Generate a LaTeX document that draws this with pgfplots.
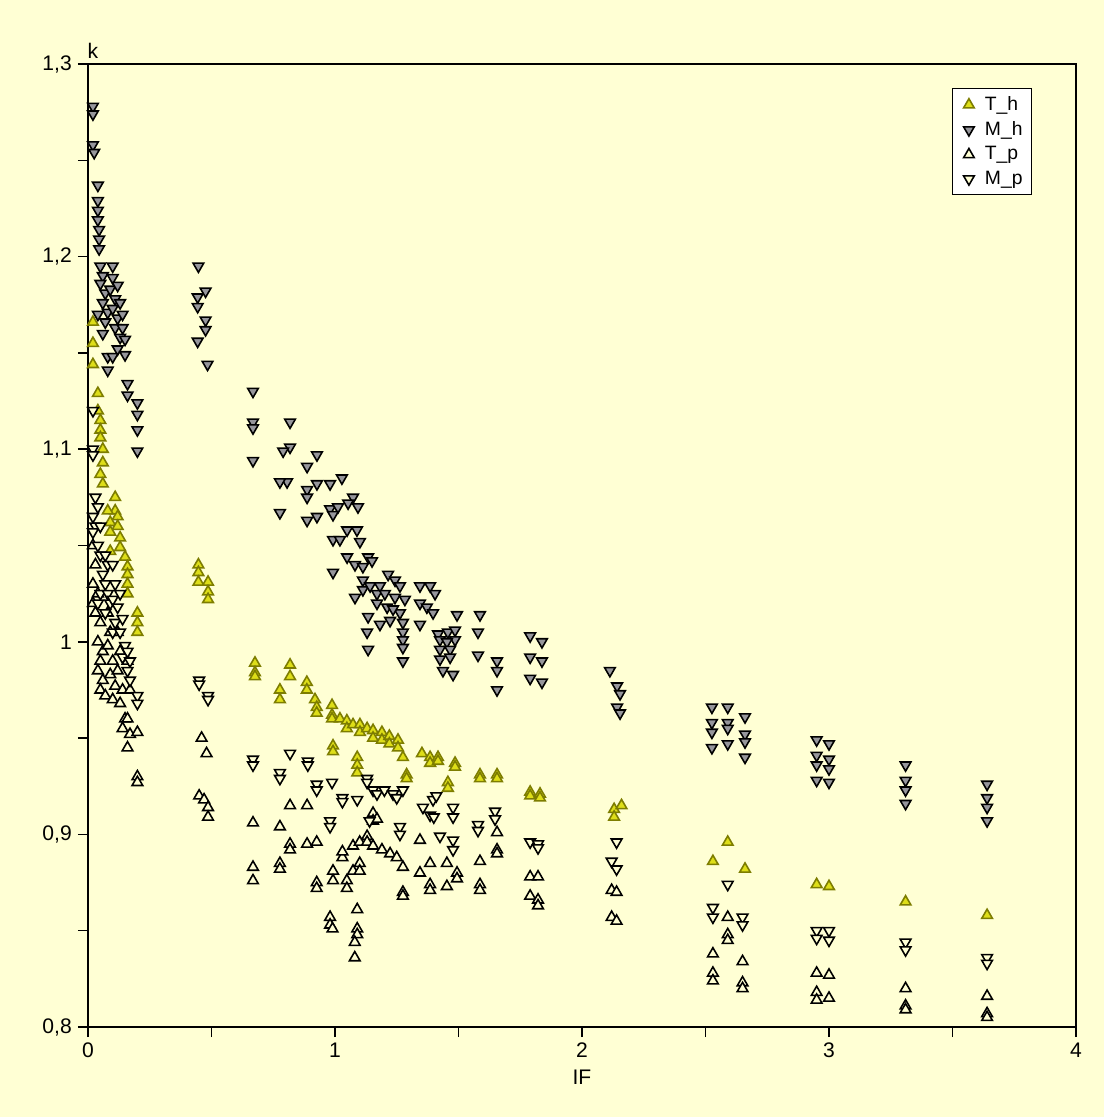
\documentclass[border=0pt]{standalone}
\usepackage{pgfplots}
\pgfplotsset{compat=1.18}
\usepackage{fontspec}
\setmainfont{Liberation Sans}
\definecolor{bg}{RGB}{255,255,212}
\definecolor{tfill}{RGB}{222,222,24}
\definecolor{tdraw}{RGB}{125,125,0}
\definecolor{mfill}{RGB}{150,150,155}
\pgfplotsset{myleg/.style={legend image code/.code={\path (-0.24cm,0cm) (0.20cm,0cm); \draw[mark repeat=2,mark phase=2,##1] plot coordinates {(-0.01cm,0cm) (0cm,0cm) (0.01cm,0cm)};}}}
\begin{document}
\begin{tikzpicture}
\fill[bg] (-1.76,-1.80) rectangle (20.32,20.54);
\begin{axis}[
  scale only axis, width=19.76cm, height=19.26cm,
  xmin=0, xmax=4, ymin=0.8, ymax=1.3,
  axis background/.style={fill=bg},
  clip=false,
  xtick={0,1,2,3,4}, xticklabels={0,1,2,3,4},
  minor xtick={0.5,1.5,2.5,3.5},
  ytick={0.8,0.9,1,1.1,1.2,1.3},
  yticklabels={{0,8},{0,9},1,{1,1},{1,2},{1,3}},
  minor ytick={0.85,0.95,1.05,1.15,1.25},
  tick align=outside, xtick pos=left, ytick pos=left,
  major tick length=0.2cm, minor tick length=0.2cm,
  tick style={black, line width=0.9pt},
  axis line style={black, line width=1.1pt},
  ticklabel style={font=\fontsize{12}{14}\selectfont},
  legend style={at={(rel axis cs:0.8745,0.975)}, anchor=north west,
    draw=black, fill=white, line width=0.8pt,
    font=\fontsize{11}{13}\selectfont, row sep=0pt,
    inner xsep=2pt, inner ysep=2pt,
    nodes={inner xsep=3pt, inner ysep=2.4pt}},
  legend cell align=left,
]
\addplot[only marks, myleg, mark=triangle*, mark size=3.5pt, mark options={fill=tfill, draw=tdraw, line width=0.9pt}] table {
0.02 1.166
0.02 1.155
0.02 1.144
0.04 1.129
0.04 1.12
0.05 1.115
0.05 1.11
0.05 1.106
0.06 1.1
0.06 1.093
0.05 1.087
0.06 1.082
0.11 1.075
0.11 1.068
0.08 1.068
0.12 1.065
0.09 1.062
0.12 1.06
0.09 1.057
0.13 1.054
0.13 1.049
0.09 1.047
0.15 1.044
0.16 1.039
0.16 1.035
0.16 1.03
0.16 1.025
0.20 1.015
0.20 1.01
0.20 1.005
0.447 1.040
0.447 1.036
0.447 1.031
0.486 1.031
0.486 1.026
0.486 1.022
0.676 0.989
0.676 0.984
0.676 0.982
0.818 0.988
0.818 0.982
0.777 0.975
0.777 0.970
0.886 0.979
0.886 0.975
0.919 0.970
0.926 0.966
0.926 0.963
0.988 0.967
0.988 0.962
0.988 0.960
1.02 0.96
1.048 0.959
1.048 0.955
1.073 0.957
1.101 0.957
1.101 0.953
1.13 0.955
1.154 0.954
1.154 0.95
1.19 0.953
1.19 0.949
1.22 0.951
1.22 0.947
1.255 0.949
1.255 0.945
1.275 0.94
0.992 0.946
0.992 0.943
1.09 0.94
1.09 0.936
1.09 0.932
1.29 0.931
1.29 0.929
1.352 0.942
1.385 0.94
1.385 0.937
1.417 0.94
1.417 0.938
1.486 0.937
1.486 0.935
1.457 0.927
1.457 0.924
1.587 0.931
1.587 0.929
1.656 0.931
1.656 0.929
1.79 0.922
1.79 0.92
1.83 0.921
1.83 0.919
2.13 0.913
2.13 0.909
2.16 0.915
2.53 0.886
2.59 0.896
2.66 0.882
2.95 0.874
3.0 0.873
3.31 0.865
3.64 0.858
};
\addlegendentry{T\_h}
\addplot[only marks, myleg, mark=triangle*, mark size=3.5pt, mark options={rotate=180, fill=mfill, draw=black, line width=0.9pt}] table {
0.02 1.278
0.02 1.274
0.02 1.258
0.025 1.254
0.04 1.237
0.04 1.229
0.04 1.224
0.04 1.219
0.045 1.214
0.045 1.209
0.045 1.204
0.05 1.195
0.06 1.19
0.05 1.186
0.07 1.181
0.06 1.176
0.08 1.171
0.07 1.166
0.1 1.195
0.1 1.189
0.09 1.183
0.11 1.178
0.1 1.173
0.12 1.168
0.11 1.163
0.13 1.158
0.12 1.185
0.13 1.176
0.14 1.17
0.12 1.152
0.08 1.148
0.08 1.141
0.14 1.163
0.15 1.157
0.15 1.149
0.16 1.134
0.16 1.128
0.2 1.124
0.2 1.118
0.2 1.11
0.2 1.099
0.06 1.16
0.1 1.148
0.04 1.17
0.447 1.195
0.444 1.179
0.444 1.174
0.476 1.182
0.476 1.167
0.476 1.162
0.444 1.156
0.484 1.144
0.668 1.130
0.668 1.114
0.668 1.111
0.668 1.094
0.818 1.114
0.818 1.101
0.79 1.099
0.927 1.097
0.927 1.082
0.927 1.065
0.887 1.091
0.887 1.079
0.887 1.075
0.887 1.063
0.806 1.083
0.777 1.083
0.777 1.067
0.98 1.082
0.98 1.069
1.028 1.085
1.012 1.07
0.992 1.066
0.992 1.053
0.992 1.036
1.073 1.075
1.093 1.07
1.053 1.072
1.049 1.058
1.049 1.044
1.089 1.058
1.02 1.053
1.101 1.052
1.081 1.04
1.081 1.023
1.134 1.044
1.134 1.013
1.134 0.996
1.15 1.042
1.113 1.039
1.113 1.032
1.113 1.027
1.142 1.029
1.182 1.029
1.182 1.009
1.215 1.035
1.243 1.032
1.243 1.023
1.263 1.029
1.263 1.015
1.17 1.025
1.17 1.02
1.202 1.025
1.283 1.022
1.211 1.018
1.235 1.017
1.223 1.011
1.275 1.01
1.275 1.005
1.275 1.001
1.275 0.997
1.275 0.99
1.13 1.005
1.344 1.029
1.344 1.02
1.344 1.009
1.385 1.029
1.405 1.025
1.372 1.018
1.397 1.015
1.417 1.004
1.457 1.005
1.486 1.006
1.486 1.001
1.425 1.001
1.425 0.996
1.425 0.991
1.453 1.0
1.466 0.996
1.466 0.992
1.437 0.985
1.478 0.983
1.494 1.014
1.587 1.014
1.579 1.005
1.579 0.993
1.656 0.99
1.656 0.985
1.656 0.975
1.79 1.003
1.79 0.992
1.79 0.981
1.838 1.0
1.838 0.99
1.838 0.979
2.113 0.985
2.142 0.977
2.142 0.966
2.154 0.973
2.154 0.963
2.526 0.966
2.526 0.958
2.526 0.953
2.526 0.945
2.59 0.966
2.59 0.958
2.59 0.955
2.59 0.947
2.66 0.961
2.66 0.952
2.66 0.948
2.66 0.94
2.95 0.949
2.95 0.941
2.95 0.936
2.95 0.928
3.0 0.947
3.0 0.939
3.0 0.934
3.0 0.927
3.31 0.936
3.31 0.928
3.31 0.923
3.31 0.916
3.64 0.926
3.64 0.919
3.64 0.914
3.64 0.907
};
\addlegendentry{M\_h}
\addplot[only marks, myleg, mark=triangle*, mark size=3.5pt, mark options={fill=bg, draw=black, line width=0.9pt}] table {
0.02 1.05
0.03 1.04
0.02 1.03
0.04 1.025
0.02 1.02
0.03 1.015
0.05 1.01
0.04 1.0
0.06 0.995
0.05 0.99
0.04 0.985
0.06 0.98
0.05 0.975
0.07 0.972
0.08 1.015
0.09 1.005
0.08 0.998
0.1 0.99
0.09 0.983
0.11 0.977
0.1 0.97
0.12 1.005
0.13 0.995
0.12 0.985
0.14 0.975
0.13 0.968
0.15 0.96
0.14 0.955
0.16 0.99
0.17 0.975
0.16 0.96
0.17 0.952
0.16 0.945
0.2 0.953
0.2 0.93
0.2 0.927
0.46 0.95
0.48 0.942
0.45 0.92
0.47 0.918
0.486 0.914
0.486 0.909
0.668 0.906
0.668 0.883
0.668 0.876
0.777 0.904
0.777 0.885
0.777 0.882
0.818 0.915
0.818 0.895
0.818 0.892
0.887 0.915
0.887 0.895
0.926 0.896
0.926 0.875
0.926 0.872
0.992 0.881
0.992 0.876
0.98 0.857
0.98 0.853
0.99 0.851
1.048 0.876
1.048 0.872
1.073 0.881
1.073 0.894
1.09 0.861
1.09 0.851
1.09 0.848
1.08 0.844
1.08 0.836
1.03 0.888
1.03 0.891
1.1 0.885
1.1 0.881
1.1 0.896
1.13 0.899
1.13 0.896
1.154 0.911
1.154 0.907
1.154 0.894
1.17 0.908
1.19 0.892
1.223 0.89
1.25 0.888
1.275 0.883
1.275 0.87
1.275 0.868
1.344 0.897
1.344 0.88
1.385 0.885
1.385 0.874
1.385 0.871
1.453 0.885
1.453 0.873
1.494 0.88
1.494 0.877
1.587 0.886
1.587 0.874
1.587 0.871
1.656 0.901
1.656 0.892
1.656 0.89
1.79 0.878
1.79 0.868
1.822 0.878
1.822 0.866
1.822 0.863
2.12 0.871
2.12 0.857
2.14 0.87
2.14 0.855
2.53 0.838
2.53 0.828
2.53 0.824
2.59 0.857
2.59 0.848
2.59 0.845
2.65 0.834
2.65 0.823
2.65 0.82
2.95 0.828
2.95 0.818
2.95 0.814
3.0 0.827
3.0 0.815
3.31 0.82
3.31 0.811
3.31 0.809
3.64 0.816
3.64 0.807
3.64 0.805
};
\addlegendentry{T\_p}
\addplot[only marks, myleg, mark=triangle*, mark size=3.5pt, mark options={rotate=180, fill=bg, draw=black, line width=0.9pt}] table {
0.02 1.12
0.02 1.10
0.02 1.097
0.03 1.075
0.02 1.065
0.03 1.06
0.02 1.057
0.04 1.07
0.05 1.06
0.04 1.05
0.05 1.045
0.06 1.035
0.05 1.025
0.04 1.02
0.07 1.045
0.08 1.04
0.07 1.03
0.08 1.025
0.09 1.02
0.07 1.015
0.1 1.04
0.11 1.03
0.1 1.022
0.12 1.018
0.11 1.01
0.1 1.005
0.13 1.025
0.14 1.012
0.13 1.005
0.15 0.998
0.14 0.992
0.16 0.995
0.17 0.99
0.16 0.985
0.17 0.98
0.2 0.972
0.2 0.968
0.45 0.98
0.45 0.978
0.486 0.972
0.486 0.97
0.668 0.939
0.668 0.936
0.818 0.942
0.777 0.932
0.777 0.929
0.89 0.938
0.89 0.936
0.926 0.926
0.926 0.923
0.988 0.927
1.03 0.919
1.03 0.917
1.09 0.918
1.13 0.929
1.13 0.927
1.154 0.923
1.17 0.921
1.2 0.923
1.235 0.921
1.25 0.919
1.275 0.923
1.397 0.918
1.41 0.92
1.356 0.914
1.385 0.91
1.40 0.909
1.478 0.914
1.478 0.909
1.648 0.912
1.648 0.908
1.579 0.905
1.579 0.902
1.79 0.896
1.822 0.895
1.822 0.893
0.98 0.907
0.98 0.904
1.14 0.907
1.263 0.904
1.263 0.9
1.425 0.899
1.478 0.897
1.478 0.892
2.14 0.896
2.12 0.886
2.14 0.882
2.59 0.874
2.53 0.862
2.53 0.857
2.65 0.857
2.65 0.853
2.95 0.85
2.95 0.846
3.0 0.85
3.0 0.845
3.31 0.844
3.31 0.84
3.64 0.836
3.64 0.833
};
\addlegendentry{M\_p}
\node[font=\fontsize{12}{14}\selectfont, anchor=base] at (rel axis cs:0.005,1.006) {k};
\node[font=\fontsize{12}{14}\selectfont] at (rel axis cs:0.5,-0.052) {IF};
\end{axis}
\end{tikzpicture}
\end{document}
